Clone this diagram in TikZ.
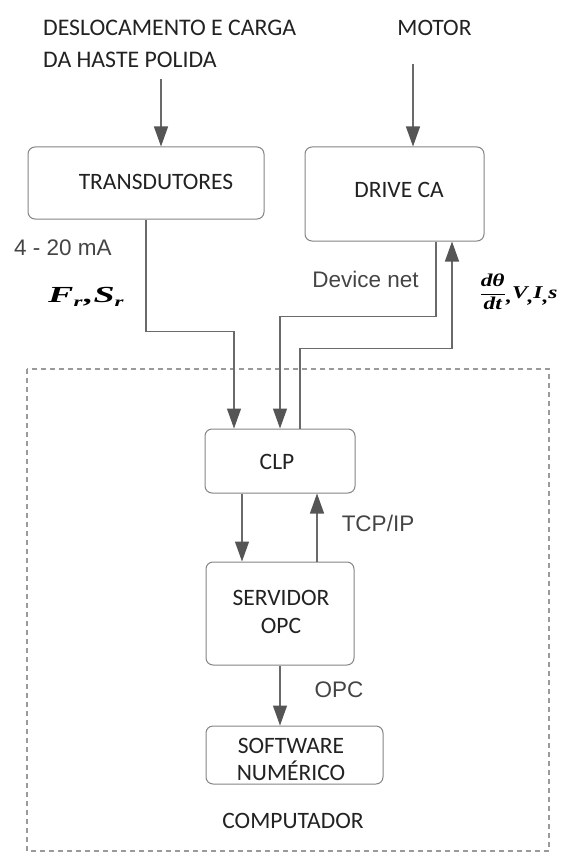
\documentclass[tikz,border=0pt]{standalone}
\usepackage{fontspec}
\usepackage{graphicx}
\setmainfont{Carlito}
\newfontfamily\arialf{Liberation Sans}
\newfontfamily\tmsf{Liberation Serif}
\usetikzlibrary{arrows.meta}

\definecolor{linegray}{HTML}{6A6A6A}
\definecolor{headgray}{HTML}{555555}
\definecolor{boxgray}{HTML}{858585}
\definecolor{dashgray}{HTML}{9A9A9A}
\definecolor{txtdark}{HTML}{222222}
\definecolor{txtgray}{HTML}{444444}

% bold italic symbol with a small lowered index
\newcommand{\symsub}[2]{#1\raisebox{-0.45ex}{\fontsize{14}{14}\selectfont #2}}
\newcommand{\lowcomma}{\raisebox{-0.5ex}{,}}
\newcommand{\bisym}{\tmsf\bfseries\itshape\fontsize{18}{18}\selectfont}

\tikzset{
  blk/.style={draw=boxgray, line width=1pt, rounded corners=7pt, fill=white,
    inner sep=0pt},
  cal/.style={inner sep=0pt, text=txtdark, font=\fontsize{23.5}{28}\selectfont},
  ari/.style={inner sep=0pt, text=txtgray, font=\arialf\fontsize{22.5}{27}\selectfont},
  conn/.style={draw=linegray, line width=1.3pt},
  arr/.style={conn, -{Triangle[length=20pt,width=14pt,color=headgray]}},
  frame/.style={draw=dashgray, line width=1.3pt, dash pattern=on 5pt off 4pt},
}

\begin{document}
\begin{tikzpicture}[x=1pt, y=-1pt]
\useasboundingbox (0,0) rectangle (560,853);

% computer boundary
\draw[frame] (27,369) rectangle (549,851);

% blocks
\node[blk, minimum width=236pt, minimum height=72pt]  (trans) at (146,183) {};
\node[blk, minimum width=179pt, minimum height=94pt]  (drive) at (394.5,194) {};
\node[blk, minimum width=150pt, minimum height=64pt]  (clp)   at (280,461) {};
\node[blk, minimum width=148pt, minimum height=103pt] (serv)  at (280,613.5) {};
\node[blk, minimum width=177pt, minimum height=58pt]  (soft)  at (294.5,755) {};

% block texts
\node[cal] (transtxt) at (156,182) {TRANSDUTORES};
\node[cal] (drivetxt) at (399,189.5) {DRIVE CA};
\node[cal] (clptxt)   at (277,462) {CLP};
\node[cal, align=center, font=\fontsize{23.5}{28}\selectfont] (servtxt) at (281,611.5) {SERVIDOR\\OPC};
\node[cal, align=center, font=\fontsize{23.5}{27}\selectfont] (softtxt) at (291,759) {SOFTWARE\\NUMÉRICO};
\node[cal] (comptxt)  at (293,820.5) {COMPUTADOR};

% inputs
\node[cal, anchor=north west, align=left, font=\fontsize{23.8}{32}\selectfont] (haste) at (43,20)
  {DESLOCAMENTO E CARGA\\DA HASTE POLIDA};
\node[cal, anchor=north] (motor) at (434.5,20) {MOTOR};
\coordinate (hasteout) at (161,79);
\coordinate (motorout) at (413,64);

% signal labels
\node[ari, anchor=west] (ma) at (14,248) {4 - 20 mA};
\node[inner sep=0pt, anchor=base west, text=black] (frsr) at (48,302)
  {\scalebox{1.65}[1]{\tmsf\bfseries\itshape\fontsize{23}{23}\selectfont
   \symsub{F}{r}\kern1pt,\symsub{S}{r}}};
\node[ari] (devnet) at (365.5,279) {Device net};
\node[inner sep=0pt, anchor=west, text=black] (motvars) at (479,292)
  {\scalebox{1.3}[1]{\bisym
   $\displaystyle\frac{\mbox{\bisym dθ}}{\mbox{\bisym dt}}$%
   \lowcomma V\lowcomma I\lowcomma s}};
\node[ari] (tcpip) at (378,523) {TCP/IP};
\node[ari] (opclbl) at (339,690) {OPC};

% connectors
\draw[arr] (hasteout) -- (hasteout |- trans.north);
\draw[arr] (motorout) -- (motorout |- drive.north);
\draw[arr] (trans.south) -- ++(0,112) -| ([xshift=-46pt]clp.north);
\draw[arr] ([xshift=41.5pt]drive.south) -- ++(0,75) -| (clp.north);
\draw[arr] ([xshift=20pt]clp.north) -- ++(0,-80) -| ([xshift=57.5pt]drive.south);
\draw[arr] ([xshift=-38pt]clp.south) -- ([xshift=-38pt]serv.north);
\draw[arr] ([xshift=37pt]serv.north) -- ([xshift=37pt]clp.south);
\draw[arr] (serv.south) -- (soft.north -| serv.south);
\end{tikzpicture}
\end{document}
